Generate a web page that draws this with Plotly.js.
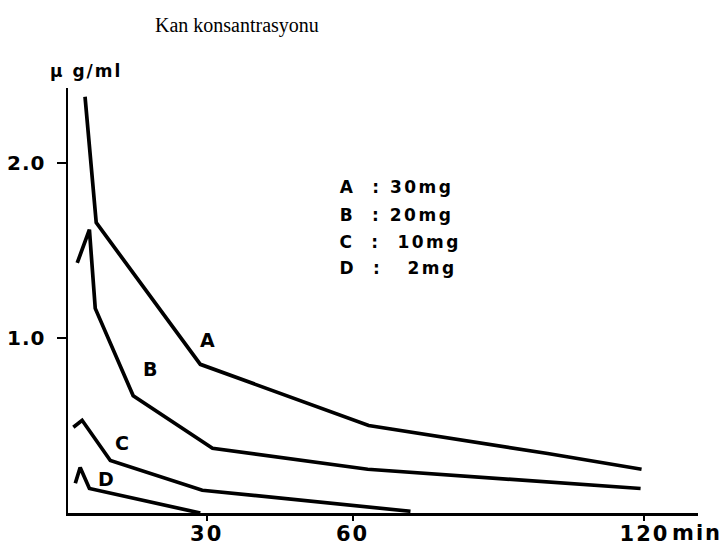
<!DOCTYPE html>
<html>
<head>
<meta charset="utf-8">
<script src="https://cdn.plot.ly/plotly-3.0.1.min.js"></script>
<style>
  html, body { margin: 0; padding: 0; background: #fff; }
  #chart { width: 723px; height: 553px; }
  text.annotation-text { letter-spacing: 2px; }
  .annotation[data-index="4"] text.annotation-text,
  .annotation[data-index="5"] text.annotation-text,
  .annotation[data-index="6"] text.annotation-text,
  .annotation[data-index="7"] text.annotation-text { letter-spacing: 2.5px; }
  .xtick text { letter-spacing: 2px; }
  .ytick text { letter-spacing: 1px; }
</style>
</head>
<body>
<div id="chart"></div>
<script>
// ---- data ----
const seriesNames = ["A", "B", "C", "D"];
const timeA = [5.0, 7.3, 28.7, 63.3, 100.1, 119.4];
const concA = [2.38, 1.66, 0.85, 0.50, 0.34, 0.25];
const timeB = [3.4, 5.9, 7.1, 14.9, 31.2, 63.1, 119.2];
const concB = [1.43, 1.62, 1.17, 0.67, 0.37, 0.25, 0.14];
const timeC = [2.6, 4.4, 10.2, 29.1, 71.9];
const concC = [0.49, 0.53, 0.30, 0.13, 0.01];
const timeD = [3.0, 4.0, 5.9, 28.7];
const concD = [0.17, 0.26, 0.14, 0.00];
const doseLines = [
  "A\u00a0\u00a0:\u00a030mg",
  "B\u00a0\u00a0:\u00a020mg",
  "C\u00a0\u00a0:\u00a0\u00a010mg",
  "D\u00a0\u00a0:\u00a0\u00a0\u00a02mg"
];
const xTickVals = [30, 60, 120];
const xTickText = ["30", "60", "120"];
const yTickVals = [1, 2];
const yTickText = ["1.0", "2.0"];

// ---- layout helpers ----
const W = 723, H = 553;
const M = { l: 68, r: 25, t: 88, b: 40 };
const pw = W - M.l - M.r, ph = H - M.t - M.b;
const px = x => (x - M.l) / pw;
const py = y => (H - M.b - y) / ph;

const sans = "DejaVu Sans, Liberation Sans, sans-serif";
const lineStyle = { color: "#000", width: 3.7 };

const xs = [timeA, timeB, timeC, timeD];
const ys = [concA, concB, concC, concD];
const traces = seriesNames.map((n, i) => ({
  type: "scatter", mode: "lines", name: n,
  x: xs[i], y: ys[i], line: lineStyle, hoverinfo: "skip"
}));

const annotations = [];
// curve labels (indices 0-3)
const curveLabelPos = [[208, 340], [151, 369], [123, 443], [107, 479]];
seriesNames.forEach((n, i) => {
  annotations.push({
    xref: "paper", yref: "paper", x: px(curveLabelPos[i][0]), y: py(curveLabelPos[i][1]),
    xanchor: "center", yanchor: "middle", showarrow: false, text: n,
    font: { family: sans, size: 19, color: "#000", weight: "bold" }
  });
});
// dose key (indices 4-7)
const keyY = [187, 215, 242, 268];
doseLines.forEach((t, i) => {
  annotations.push({
    xref: "paper", yref: "paper", x: px(340), y: py(keyY[i]),
    xanchor: "left", yanchor: "middle", showarrow: false, text: t,
    font: { family: sans, size: 17, color: "#000", weight: "bold" }
  });
});
// unit labels
annotations.push({
  xref: "paper", yref: "paper", x: px(86), y: py(71),
  xanchor: "center", yanchor: "middle", showarrow: false, text: "\u03bc\u00a0g/ml",
  font: { family: sans, size: 17, color: "#000", weight: "bold" }
});
annotations.push({
  xref: "paper", yref: "paper", x: px(697), y: py(533),
  xanchor: "center", yanchor: "middle", showarrow: false, text: "min",
  font: { family: sans, size: 21, color: "#000", weight: "bold" }
});

const layout = {
  width: W, height: H,
  margin: M,
  paper_bgcolor: "#fff", plot_bgcolor: "#fff",
  showlegend: false,
  title: {
    text: "Kan konsantrasyonu",
    xref: "container", yref: "container",
    x: 155 / W, xanchor: "left",
    y: 1 - 25 / H, yanchor: "middle",
    font: { family: "Liberation Serif, Times New Roman, serif", size: 20, color: "#000" }
  },
  xaxis: {
    range: [1.5, 131], showgrid: false, zeroline: false,
    showline: true, linecolor: "#000", linewidth: 2.5,
    ticks: "outside", ticklen: 5, tickwidth: 2, tickcolor: "#000",
    tickvals: xTickVals, ticktext: xTickText,
    tickfont: { family: sans, size: 21, color: "#000", weight: "bold" },
    ticklabelstandoff: -5
  },
  yaxis: {
    range: [0, 2.43], showgrid: false, zeroline: false,
    showline: true, linecolor: "#000", linewidth: 2.5,
    ticks: "outside", ticklen: 9, tickwidth: 2, tickcolor: "#000",
    tickvals: yTickVals, ticktext: yTickText,
    tickfont: { family: sans, size: 20, color: "#000", weight: "bold" },
    ticklabelstandoff: 7
  },
  annotations: annotations
};

Plotly.newPlot("chart", traces, layout, { staticPlot: true, displayModeBar: false });
</script>
</body>
</html>
